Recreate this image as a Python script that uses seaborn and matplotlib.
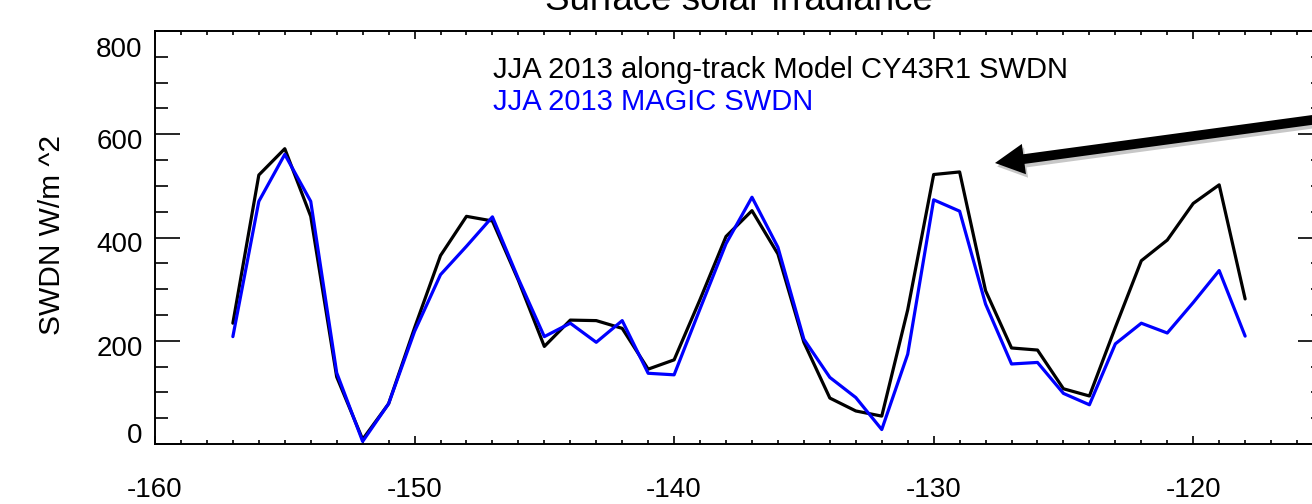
# surface solar irradiance along the MAGIC track, JJA 2013
# model CY43R1 vs MAGIC observations

import numpy as np
import pandas as pd
import matplotlib
matplotlib.use('Agg')
import matplotlib.pyplot as plt
import matplotlib.patheffects as pe
from matplotlib.transforms import ScaledTranslation
import seaborn as sns

# data (longitude, W/m^2)
lon = [-157, -156, -155, -154, -153, -152, -151, -150, -149, -148,
       -147, -146, -145, -144, -143, -142, -141, -140, -139, -138,
       -137, -136, -135, -134, -133, -132, -131, -130, -129, -128,
       -127, -126, -125, -124, -123, -122, -121, -120, -119, -118]
model_swdn = [234, 521, 572, 441, 130, 9, 78, 225, 365, 441,
              432, 317, 189, 240, 239, 224, 145, 163, 280, 402,
              452, 368, 197, 89, 64, 54, 260, 522, 527, 297,
              186, 182, 107, 93, 226, 355, 395, 466, 502, 281]
magic_swdn = [208, 470, 561, 470, 138, 5, 78, 218, 328, 383,
              440, 320, 208, 234, 197, 239, 137, 134, 262, 388,
              478, 381, 203, 129, 90, 28, 174, 473, 451, 271,
              155, 158, 98, 76, 194, 234, 215, 274, 336, 209]

xticks = [-160, -150, -140, -130, -120]
xtick_labels = ['-160', '-150', '-140', '-130', '-120']
yticks = [0, 200, 400, 600, 800]
ytick_labels = ['0', '200', '400', '600', '800']

df = pd.DataFrame({'lon': lon, 'model': model_swdn, 'magic': magic_swdn})

sns.set_style('ticks')
plt.rcParams['font.family'] = ['Liberation Sans', 'DejaVu Sans']
plt.rcParams['axes.unicode_minus'] = False
plt.rcParams['axes.edgecolor'] = 'black'
plt.rcParams['text.color'] = 'black'
plt.rcParams['xtick.color'] = 'black'
plt.rcParams['ytick.color'] = 'black'
plt.rcParams['xtick.labelcolor'] = 'black'
plt.rcParams['ytick.labelcolor'] = 'black'

fig = plt.figure(figsize=(13.12, 5.04), dpi=100)
# the original is cropped: the right edge of the plot box sits just off the picture
ax = fig.add_axes([155 / 1312, 1 - 444 / 504, 1168 / 1312, 413 / 504])

sns.lineplot(data=df, x='lon', y='model', ax=ax, color='black', lw=2.3)
sns.lineplot(data=df, x='lon', y='magic', ax=ax, color='#0000ff', lw=2.3)

ax.set_xlim(-160, -115)
ax.set_ylim(0, 800)
ax.set_xlabel('')
ax.set_ylabel('')

ax.set_xticks(xticks)
ax.set_xticklabels(xtick_labels)
ax.set_xticks(np.arange(-160, -114, 1), minor=True)
ax.set_yticks(yticks)
ax.set_yticklabels(ytick_labels)
ax.set_yticks(np.arange(0, 801, 50), minor=True)

ax.tick_params(axis='both', which='both', direction='in', top=True, right=True,
               width=1.2, labelsize=20, labelcolor='black')
ax.tick_params(axis='x', which='major', length=5.8, pad=23.5)
ax.tick_params(axis='x', which='minor', length=2.9)
ax.tick_params(axis='y', which='major', length=18, pad=9)
ax.tick_params(axis='y', which='minor', length=9)

for side in ['left', 'right', 'top', 'bottom']:
    ax.spines[side].set_linewidth(1.4)
    ax.spines[side].set_color('black')

# idl style placement of the y labels (end labels pulled inside the box)
shifts = {'0': 11, '800': -16}
for lab in ax.get_yticklabels():
    dy = shifts.get(lab.get_text(), -5)
    lab.set_transform(lab.get_transform() + ScaledTranslation(0, dy / 100, fig.dpi_scale_trans))

# legend as coloured text
ax.text(0.289, 0.905, 'JJA 2013 along-track Model CY43R1 SWDN', transform=ax.transAxes,
        fontsize=21, color='black', va='center', ha='left')
ax.text(0.289, 0.828, 'JJA 2013 MAGIC SWDN', transform=ax.transAxes,
        fontsize=21, color='#0000ff', va='center', ha='left')

fig.text(52 / 1312, 1 - 235 / 504, 'SWDN W/m ^2', rotation=90, fontsize=21.5,
         ha='center', va='center', color='black')
fig.text((155 + 1323) / 2 / 1312, 1 - 10 / 504, 'Surface solar irradiance',
         fontsize=26.5, ha='center', va='baseline', color='black')

# arrow pointing at the model overestimate
ax.annotate('', xy=(995 / 1312, 341 / 504), xycoords='figure fraction',
            xytext=(1420 / 1312, 398.7 / 504), textcoords='figure fraction',
            annotation_clip=False,
            arrowprops=dict(arrowstyle='simple,head_length=2.1,head_width=2.2,tail_width=0.7',
                            fc='black', ec='none', shrinkA=0, shrinkB=0, mutation_scale=10,
                            path_effects=[pe.SimplePatchShadow(offset=(1.5, -2.5), alpha=0.22),
                                          pe.Normal()]))

plt.savefig('out.png', dpi=100)
